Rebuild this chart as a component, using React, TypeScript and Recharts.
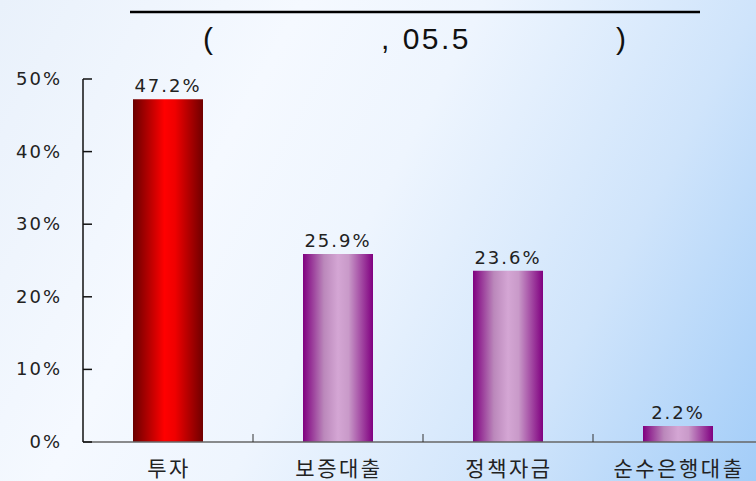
import React from "react"
import { BarChart, Bar, XAxis, YAxis, Cell, LabelList } from "recharts"

const categories = ["투자", "보증대출", "정책자금", "순수은행대출"]
const shares = [47.2, 25.9, 23.6, 2.2]
const yTicks = [0, 10, 20, 30, 40, 50]
const titleParts = ["(", ", 05.5", ")"]

const chartData = categories.map((name, i) => ({ name, value: shares[i] }))

const numFont = "'DejaVu Sans', sans-serif"
const krFont = "'Noto Sans CJK KR', sans-serif"

function PercentTick({ x, y, payload }: any) {
  return (
    <g>
      <line x1={x} x2={x + 9} y1={y} y2={y} stroke="#111" strokeWidth={1.5} />
      <text
        x={x - 21}
        y={y}
        dy={6}
        textAnchor="end"
        fill="#222"
        fontSize={18}
        fontFamily={numFont}
        letterSpacing={2}
      >
        {`${payload.value}%`}
      </text>
    </g>
  )
}

function CategoryTick({ x, y, payload, index }: any) {
  return (
    <g>
      {index < categories.length - 1 && (
        <line x1={x + 85} x2={x + 85} y1={y} y2={y - 8} stroke="#333" strokeWidth={1} />
      )}
      <text
        x={x + 1}
        y={y}
        dy={34}
        textAnchor="middle"
        fill="#222"
        fontSize={21}
        fontFamily={krFont}
        letterSpacing={2.5}
      >
        {payload.value}
      </text>
    </g>
  )
}

export default function App() {
  return (
    <div
      style={{
        position: "absolute",
        top: 0,
        left: 0,
        width: 756,
        height: 481,
        overflow: "hidden",
        background:
          "linear-gradient(118deg, #e9f1fb 0%, #f5f9ff 30%, #eef5fe 48%, #cfe4fb 75%, #a3cdf8 100%)"
      }}
    >
      <BarChart
        width={780}
        height={481}
        data={chartData}
        margin={{ top: 79, right: 17, left: 0, bottom: 0 }}
        barSize={70}
      >
        <defs>
          <linearGradient id="redGrad" x1="0" y1="0" x2="1" y2="0">
            <stop offset="0%" stopColor="#6a0000" />
            <stop offset="45%" stopColor="#ff0000" />
            <stop offset="60%" stopColor="#f00000" />
            <stop offset="100%" stopColor="#700000" />
          </linearGradient>
          <linearGradient id="purpleGrad" x1="0" y1="0" x2="1" y2="0">
            <stop offset="0%" stopColor="#800080" />
            <stop offset="30%" stopColor="#bb88bb" />
            <stop offset="50%" stopColor="#d4a6d4" />
            <stop offset="65%" stopColor="#c99ac9" />
            <stop offset="100%" stopColor="#800080" />
          </linearGradient>
        </defs>
        <XAxis
          dataKey="name"
          height={39}
          interval={0}
          axisLine={{ stroke: "#666", strokeWidth: 1.5 }}
          tickLine={false}
          tickSize={0}
          tickMargin={0}
          tick={<CategoryTick />}
        />
        <YAxis
          width={83}
          domain={[0, 50]}
          ticks={yTicks}
          axisLine={{ stroke: "#111", strokeWidth: 1.5 }}
          tickLine={false}
          tickSize={0}
          tickMargin={0}
          tick={<PercentTick />}
        />
        <Bar dataKey="value" isAnimationActive={false}>
          {chartData.map((d, i) => (
            <Cell key={d.name} fill={i === 0 ? "url(#redGrad)" : "url(#purpleGrad)"} />
          ))}
          <LabelList
            dataKey="value"
            position="top"
            offset={7}
            formatter={(v: any) => `${Number(v).toFixed(1)}%`}
            fill="#222"
            fontSize={18}
            fontFamily={numFont}
            letterSpacing={2}
          />
        </Bar>
      </BarChart>
      <svg
        width={756}
        height={481}
        style={{ position: "absolute", top: 0, left: 0, pointerEvents: "none" }}
      >
        <line x1={130} x2={700} y1={12} y2={12} stroke="#000" strokeWidth={2.5} />
        <g fontFamily="'Liberation Sans', Arial, sans-serif" fontSize={30} fill="#111">
          <text x={203} y={49}>{titleParts[0]}</text>
          <text x={381} y={49} letterSpacing={2.5} xmlSpace="preserve">{titleParts[1]}</text>
          <text x={616} y={49}>{titleParts[2]}</text>
        </g>
      </svg>
    </div>
  )
}
